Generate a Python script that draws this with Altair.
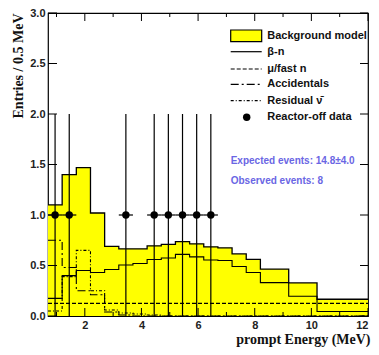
import altair as alt
import pandas as pd

# ---------------- data ----------------
bin_lo = [0.7, 1.2, 1.7, 2.2, 2.7, 3.2, 3.7, 4.2, 4.7, 5.2, 5.7, 6.2, 6.7, 7.2, 7.7, 8.2, 9.2, 10.2]
bin_hi = [1.2, 1.7, 2.2, 2.7, 3.2, 3.7, 4.2, 4.7, 5.2, 5.7, 6.2, 6.7, 7.2, 7.7, 8.2, 9.2, 10.2, 12.2]
total = [1.10, 1.40, 1.47, 1.02, 0.69, 0.665, 0.665, 0.695, 0.71, 0.737, 0.715, 0.685, 0.675,
         0.615, 0.56, 0.465, 0.327, 0.166]
beta_n = [0.175, 0.40, 0.45, 0.43, 0.46, 0.505, 0.52, 0.56, 0.575, 0.61, 0.585, 0.555, 0.55,
          0.49, 0.43, 0.33, 0.195, 0.045]
fast_n = [0.125, 0.125, 0.125, 0.125, 0.125, 0.125, 0.125, 0.125, 0.125, 0.125, 0.125, 0.125,
          0.125, 0.125, 0.125, 0.125, 0.125, 0.125]
accidentals = [0.75, 0.48, 0.25, 0.21, 0.04, 0.01, 0.0, 0.0, 0.0, 0.0, 0.0, 0.0, 0.0, 0.0,
               0.0, 0.0, 0.0, 0.0]
residual = [0.05, 0.39, 0.65, 0.25, 0.06, 0.03, 0.02, 0.01, 0.0, 0.0, 0.0, 0.0, 0.0, 0.0,
            0.0, 0.0, 0.0, 0.0]

data_x = [0.95, 1.45, 3.45, 4.45, 4.95, 5.45, 5.95, 6.45]
data_y = [1, 1, 1, 1, 1, 1, 1, 1]
data_yerr = [1, 1, 1, 1, 1, 1, 1, 1]
data_xerr = [0.25, 0.25, 0.25, 0.25, 0.25, 0.25, 0.25, 0.25]

x_label_values = [2, 4, 6, 8, 10, 12]
x_major_ticks = [2, 4, 6, 8, 10, 12]
x_minor_ticks = [1, 3, 5, 7, 9, 11]
y_ticks = [0, 0.5, 1.0, 1.5, 2.0, 2.5, 3.0]

legend_labels = ["Background model", "\u03b2-n", "\u03bc/fast n", "Accidentals",
                 "Residual \u03bd\u0304", "Reactor-off data"]
info_lines = ["Expected events: 14.8\u00b14.0", "Observed events: 8"]

# ---------------- layout ----------------
W, H = 320, 303
SANS = "Liberation Sans"
SERIF = "Liberation Serif"

x_scale = alt.Scale(domain=[0.7, 12], nice=False, zero=False)
y_scale = alt.Scale(domain=[0, 3], nice=False, zero=True)

x_axis = alt.Axis(values=x_label_values, format="d", ticks=False, domain=False, grid=False,
                  labelFlush=True, labelOverlap=False, labelPadding=3,
                  labelFont=SANS, labelFontSize=11, labelFontWeight="bold", labelColor="#222",
                  title="prompt Energy (MeV)", titleFont=SERIF, titleFontSize=14,
                  titleFontWeight="bold", titleColor="#111", titleX=322, titleY=27,
                  titleAlign="right", titleBaseline="alphabetic")
y_axis = alt.Axis(values=y_ticks, format=".1f", ticks=False, domain=False, grid=False,
                  labelFlush=False, labelOverlap=False, labelPadding=3,
                  labelFont=SANS, labelFontSize=11, labelFontWeight="bold", labelColor="#222",
                  title="Entries / 0.5 MeV", titleFont=SERIF, titleFontSize=14,
                  titleFontWeight="bold", titleColor="#111", titleAngle=270, titleX=-26,
                  titleY=0, titleAlign="right", titleBaseline="alphabetic")


def X(field):
    return alt.X(f"{field}:Q", scale=x_scale, axis=x_axis)


def Y(field):
    return alt.Y(f"{field}:Q", scale=y_scale, axis=y_axis)


def steps(values):
    xs = bin_lo + [bin_hi[-1]]
    ys = values + [values[-1]]
    return pd.DataFrame({"energy": xs, "entries": ys})


layers = []

# yellow background model fill
layers.append(alt.Chart(steps(total)).mark_area(interpolate="step-after", color="#ffff00",
                                                 clip=True)
              .encode(x=X("energy"), y=Y("entries")))


def comp_line(values, dash=None, width=1.1):
    kw = dict(interpolate="step-after", color="black", strokeWidth=width, clip=True)
    if dash:
        kw["strokeDash"] = dash
    return alt.Chart(steps(values)).mark_line(**kw).encode(x=X("energy"), y=Y("entries"))


DASH_FAST = [4, 2]
DASH_ACC = [8, 3, 2, 3]
DASH_RES = [3, 2, 1, 2]

layers.append(comp_line(fast_n, DASH_FAST))
layers.append(comp_line(accidentals, DASH_ACC))
layers.append(comp_line(residual, DASH_RES))
layers.append(comp_line(beta_n))
layers.append(comp_line(total, width=1.3))


# inward ticks on all four sides
def xticks(vals, length, top):
    df = pd.DataFrame({"energy": vals})
    if top:
        enc = dict(y=alt.value(0), y2=alt.value(length))
    else:
        enc = dict(y=alt.value(H), y2=alt.value(H - length))
    return alt.Chart(df).mark_rule(color="black", strokeWidth=1).encode(x=X("energy"), **enc)


def yticks(vals, length, right):
    df = pd.DataFrame({"entries": vals})
    if right:
        enc = dict(x=alt.value(W), x2=alt.value(W - length))
    else:
        enc = dict(x=alt.value(0), x2=alt.value(length))
    return alt.Chart(df).mark_rule(color="black", strokeWidth=1).encode(y=Y("entries"), **enc)


layers += [xticks(x_major_ticks, 8, False), xticks(x_minor_ticks, 4, False),
           xticks(x_major_ticks, 8, True), xticks(x_minor_ticks, 4, True),
           yticks(y_ticks, 9, False), yticks(y_ticks, 8, True)]

# reactor-off data with error bars
pts = pd.DataFrame({"energy": data_x, "entries": data_y, "yerr": data_yerr, "xerr": data_xerr})
pts["lo"] = pts["entries"] - pts["yerr"]
pts["hi"] = pts["entries"] + pts["yerr"]
pts["xlo"] = pts["energy"] - pts["xerr"]
pts["xhi"] = pts["energy"] + pts["xerr"]

layers.append(alt.Chart(pts).mark_rule(color="black", strokeWidth=1.2)
              .encode(x=X("energy"), y=Y("lo"), y2="hi:Q"))
layers.append(alt.Chart(pts).mark_rule(color="black", strokeWidth=1.2)
              .encode(x=X("xlo"), x2="xhi:Q", y=Y("entries")))
layers.append(alt.Chart(pts).mark_circle(color="black", opacity=1, size=55)
              .encode(x=X("energy"), y=Y("entries")))

# ---------------- legend (drawn by hand, like the original) ----------------
one = pd.DataFrame({"k": [0]})
LX0, LX1, TX = 182.7, 213.7, 219.3
layers.append(alt.Chart(one).mark_rect(fill="#ffff00", stroke="black", strokeWidth=1.2)
              .encode(x=alt.value(LX0), x2=alt.value(LX1), y=alt.value(17), y2=alt.value(28.7)))
for ly, dash in [(38.7, None), (56, DASH_FAST), (71.3, DASH_ACC), (87.7, DASH_RES)]:
    kw = dict(color="black", strokeWidth=1.2)
    if dash:
        kw["strokeDash"] = dash
    layers.append(alt.Chart(one).mark_rule(**kw)
                  .encode(x=alt.value(LX0), x2=alt.value(LX1), y=alt.value(ly)))
layers.append(alt.Chart(one).mark_circle(color="black", opacity=1, size=55)
              .encode(x=alt.value(198.7), y=alt.value(104.3)))

legend_y = [22.5, 38.7, 56, 71.3, 87.7, 104.3]
for lab, ly in zip(legend_labels, legend_y):
    layers.append(alt.Chart(pd.DataFrame({"t": [lab]}))
                  .mark_text(align="left", baseline="middle", font=SANS, fontSize=11,
                             fontWeight="bold", color="#111")
                  .encode(x=alt.value(TX), y=alt.value(ly), text="t:N"))

for lab, ly in zip(info_lines, [148, 167.7]):
    layers.append(alt.Chart(pd.DataFrame({"t": [lab]}))
                  .mark_text(align="left", baseline="middle", font=SANS, fontSize=10,
                             fontWeight="bold", color="#6a66e4")
                  .encode(x=alt.value(LX0), y=alt.value(ly), text="t:N"))

chart = (alt.layer(*layers)
         .properties(width=W, height=H, autosize=alt.AutoSizeParams(type="none"),
                     padding={"left": 40, "top": 5, "right": 3, "bottom": 31},
                     background="white")
         .configure_view(stroke="black", strokeWidth=1.2))

chart.save("out.html", embed_options={"renderer": "svg", "actions": False})
